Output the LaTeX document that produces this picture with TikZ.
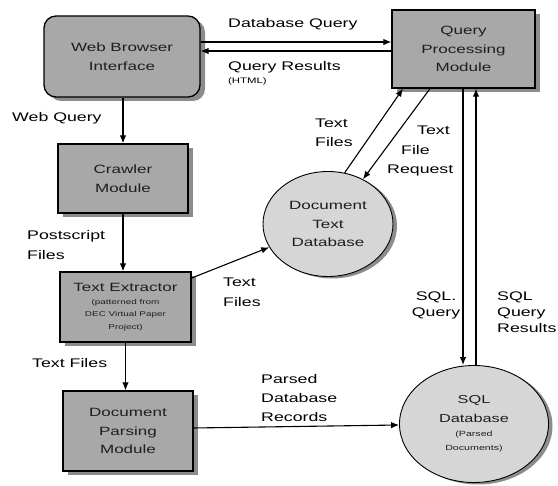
\documentclass[tikz,border=0pt]{standalone}
\usepackage{fontspec}
\setmainfont{Liberation Sans}
\newfontfamily\wide[FakeStretch=1.42]{Liberation Sans}
\usetikzlibrary{arrows.meta,shapes.geometric,shadows}

\definecolor{boxgray}{HTML}{A8A8A8}
\definecolor{storegray}{HTML}{D6D6D6}
\definecolor{shadowgray}{HTML}{8C8C8C}
\definecolor{inkgray}{HTML}{1E1E1E}

\tikzset{
  procbox/.style={draw=black, line width=1.3pt, fill=boxgray, text=inkgray,
    rectangle, inner sep=0pt, align=center,
    font=\wide\fontsize{12}{18.5}\selectfont,
    drop shadow={shadow xshift=5pt, shadow yshift=-4pt, fill=shadowgray, opacity=1}},
  store/.style={draw=black, line width=0.9pt, fill=storegray, text=inkgray,
    ellipse, inner sep=0pt, align=center,
    font=\wide\fontsize{12}{18.5}\selectfont,
    drop shadow={shadow xshift=4pt, shadow yshift=-2pt, fill=shadowgray, opacity=1}},
  % multi-line labels sit on the baseline of their last line
  lbl/.style={inner sep=0pt, anchor=base west, align=left, text=black,
    font=\wide\fontsize{12.5}{19}\selectfont},
  flow/.style={draw=black, line width=1.1pt, -{Latex[length=8pt,width=6.5pt]}},
}

\begin{document}
\begin{tikzpicture}[x=1pt,y=-1pt]
\useasboundingbox (0,0) rectangle (558,486);

% processes and data stores
\node[procbox, rounded corners=12pt, minimum width=156, minimum height=81] (wbi) at (122,56.5) {Web Browser\\Interface};
\node[procbox, minimum width=143, minimum height=78] (qpm) at (463.5,49) {Query\\Processing\\Module};
\node[procbox, minimum width=130, minimum height=69] (crawl) at (123,178.5) {Crawler\\Module};
\node[procbox, minimum width=131, minimum height=70] (tex) at (125.5,307)
  {Text Extractor\\[-5.5pt]
   \fontsize{7}{12.5}\selectfont (patterned from\\[-6pt]
   \fontsize{7}{12.5}\selectfont DEC Virtual Paper\\[-6pt]
   \fontsize{7}{12.5}\selectfont Project)};
\node[procbox, minimum width=130, minimum height=80] (dpm) at (128,431) {Document\\Parsing\\Module};
\node[store, minimum width=130, minimum height=105] (dtdb) at (328,224) {Document\\Text\\Database};
\node[store, minimum width=149, minimum height=117] (sqldb) at (474,424)
  {\fontsize{11.5}{18.5}\selectfont SQL\\
   \fontsize{11.5}{18.5}\selectfont Database\\[-4.5pt]
   \fontsize{7.5}{12}\selectfont (Parsed\\[-4.5pt]
   \fontsize{7.5}{12}\selectfont Documents)};

% data flows
\draw[flow] (wbi.east |- 0,42) -- (qpm.west |- 0,42);
\draw[flow] (qpm.west |- 0,51) -- (wbi.east |- 0,51);
\draw[flow] (wbi.south -| crawl.north) -- (crawl.north);
\draw[flow] (crawl.south) -- (crawl.south |- tex.north);
\draw[flow] (tex.south) -- (tex.south |- dpm.north);
\draw[flow] (tex.east |- 0,278) -- (dtdb);
\draw[flow] (dtdb.72) -- (qpm.south -| 403,0);
\draw[flow] (qpm.south -| 430,0) -- (dtdb.52);
\draw[flow] (qpm.south -| 463,0) -- (sqldb.north -| 463,0);
\draw[flow] (sqldb.north -| 476,0) -- (qpm.south -| 476,0);
\draw[flow] (dpm.east |- 0,428) -- (sqldb.west |- 0,425);

% flow labels
\node[lbl] (ldq) at (228,28) {Database Query};
\node[lbl] (lqr) at (228,71) {Query Results};
\node[lbl, font=\wide\fontsize{8}{10}\selectfont] (lhtml) at (228,84) {(HTML)};
\node[lbl] (lwq) at (12,122) {Web Query};
\node[lbl, font=\wide\fontsize{12.5}{20}\selectfont] (lps) at (27,260) {Postscript\\Files};
\node[lbl, font=\wide\fontsize{12.5}{20}\selectfont] (ltf1) at (223,307) {Text\\Files};
\node[lbl] (ltf2) at (32,368) {Text Files};
\node[lbl] (ltf3) at (315,147) {Text\\Files};
\node[lbl, font=\wide\fontsize{12.5}{19.5}\selectfont] (ltfr) at (387,174) {\hspace*{30pt}Text\\\hspace*{14pt}File\\Request};
\node[lbl, anchor=base, align=center, font=\wide\fontsize{12.5}{16}\selectfont] (lsq) at (436,317) {SQL.\\Query};
\node[lbl, font=\wide\fontsize{12.5}{16}\selectfont] (lsr) at (497,333) {SQL\\Query\\Results};
\node[lbl] (lpdr) at (261,422) {Parsed\\Database\\Records};
\end{tikzpicture}
\end{document}
